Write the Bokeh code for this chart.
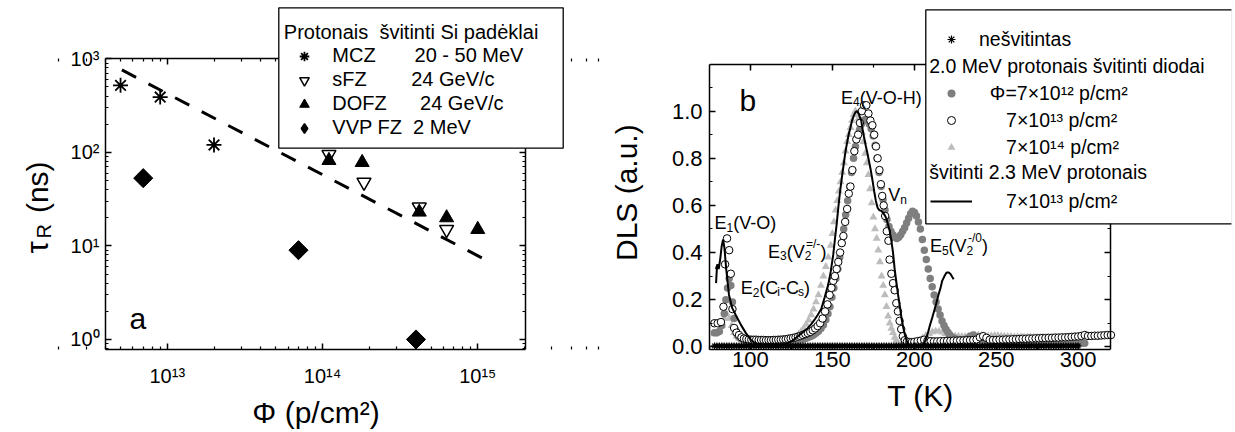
import math
from bokeh.plotting import figure
from bokeh.layouts import row
from bokeh.models import (LogAxis, LinearAxis, Label, BoxAnnotation, Legend, LegendItem,
                          FixedTicker, SingleIntervalTicker, PrintfTickFormatter,
                          CustomJSTickFormatter, ColumnDataSource, Range1d)
from bokeh.core.properties import value
from bokeh.embed import file_html
from bokeh.resources import INLINE

FONT = "Liberation Sans"
NB = "\u00a0"
L10 = math.log10

# ======================= panel a data =======================
mcz_phi = [5.0e12, 9.0e12, 2.0e13]
mcz_tau = [520, 390, 120]
sfz_phi = [1.1e14, 1.85e14, 4.2e14, 6.3e14]
sfz_tau = [95, 48, 26, 15]
dofz_phi = [1.1e14, 1.8e14, 4.2e14, 6.3e14, 1.0e15]
dofz_tau = [82, 78, 23, 20, 15]
vvp_phi = [7.0e12, 7.0e13, 4.0e14]
vvp_tau = [53, 9, 1.0]
fit_phi = [5.1e12, 1.07e15]
fit_tau = [760, 7.4]

a_x_lo, a_x_hi = 4.0e12, 2.03e15
a_y_hi = 1000
a_x_ticks = [1e13, 1e14, 1e15]
a_x_labels = ["10¹³", "10¹⁴", "10¹⁵"]
a_y_ticks = [1, 10, 100, 1000]
a_y_labels = ["10⁰", "10¹", "10²", "10³"]
a_legend_title = "Protonais" + NB * 2 + "švitinti Si padėklai"
a_legend_labels = ["MCZ" + NB * 7 + "20 - 50 MeV",
                   "sFZ" + NB * 8 + "24 GeV/c",
                   "DOFZ" + NB * 6 + "24 GeV/c",
                   "VVP FZ" + NB * 2 + "2 MeV"]
a_panel_letter = ("a", 5.7e12, 1.68)

# ======================= panel b data =======================
unirr_T = [78, 79.5, 81, 82.5, 84, 85.5, 87, 88.5, 90, 91.5, 93, 94.5, 96, 97.5, 99, 100.5,
           102, 103.5, 105, 106.5, 108, 109.5, 111, 112.5, 114, 115.5, 117, 118.5, 120, 121.5,
           123, 124.5, 126, 127.5, 129, 130.5, 132, 133.5, 135, 136.5, 138, 139.5, 141, 142.5,
           144, 145.5, 147, 148.5, 150, 151.5, 153, 154.5, 156, 157.5, 159, 160.5, 162, 163.5,
           165, 166.5, 168, 169.5, 171, 172.5, 174, 175.5, 177, 178.5, 180, 181.5, 183, 184.5,
           186, 187.5, 189, 190.5, 192, 193.5, 195, 196.5, 198, 199.5, 201, 202.5, 204, 205.5,
           207, 208.5, 210, 211.5, 213, 214.5, 216, 217.5, 219, 220.5, 222, 223.5, 225, 226.5,
           228, 229.5, 231, 232.5, 234, 235.5, 237, 238.5, 240, 241.5, 243, 244.5, 246, 247.5,
           249, 250.5, 252, 253.5, 255, 256.5, 258, 259.5, 261, 262.5, 264, 265.5, 267, 268.5,
           270, 271.5, 273, 274.5, 276, 277.5, 279, 280.5, 282, 283.5, 285, 286.5, 288, 289.5,
           291, 292.5, 294, 295.5, 297, 298.5, 300]
unirr_v = [0.004, 0.004, 0.004, 0.004, 0.004, 0.004, 0.004, 0.004, 0.004, 0.004, 0.004, 0.004,
           0.004, 0.004, 0.004, 0.004, 0.004, 0.004, 0.004, 0.004, 0.004, 0.004, 0.004, 0.004,
           0.004, 0.004, 0.004, 0.004, 0.004, 0.004, 0.004, 0.004, 0.004, 0.004, 0.004, 0.004,
           0.004, 0.004, 0.004, 0.004, 0.004, 0.004, 0.004, 0.004, 0.004, 0.004, 0.004, 0.004,
           0.004, 0.004, 0.004, 0.004, 0.004, 0.004, 0.004, 0.004, 0.004, 0.004, 0.004, 0.004,
           0.004, 0.004, 0.004, 0.004, 0.004, 0.004, 0.004, 0.004, 0.004, 0.004, 0.004, 0.004,
           0.004, 0.004, 0.004, 0.004, 0.004, 0.004, 0.004, 0.004, 0.004, 0.004, 0.004, 0.004,
           0.004, 0.004, 0.004, 0.004, 0.004, 0.004, 0.004, 0.004, 0.004, 0.004, 0.004, 0.004,
           0.004, 0.004, 0.004, 0.004, 0.004, 0.004, 0.004, 0.004, 0.004, 0.004, 0.004, 0.004,
           0.004, 0.004, 0.004, 0.004, 0.004, 0.004, 0.004, 0.004, 0.004, 0.004, 0.004, 0.004,
           0.004, 0.004, 0.004, 0.004, 0.004, 0.004, 0.004, 0.004, 0.004, 0.004, 0.004, 0.004,
           0.004, 0.004, 0.004, 0.004, 0.004, 0.004, 0.004, 0.004, 0.004, 0.004, 0.004, 0.004,
           0.004, 0.004, 0.004, 0.004, 0.004]

f12_pts = [(78, 0.06), (79.5, 0.06), (81, 0.065), (82.5, 0.09), (84, 0.14), (85, 0.2), (86, 0.25),
           (87, 0.29), (88, 0.26), (89, 0.19), (90, 0.12), (91, 0.07), (92.5, 0.045), (94, 0.035),
           (95.5, 0.03), (97, 0.026), (99, 0.024), (101, 0.022), (103, 0.021), (105, 0.02),
           (107, 0.02), (109, 0.02), (111, 0.02), (113, 0.02), (115, 0.02), (117, 0.021),
           (119, 0.021), (121, 0.022), (123, 0.023), (125, 0.024), (127, 0.025), (129, 0.027),
           (131, 0.03), (132.5, 0.033), (134, 0.036), (135.5, 0.04), (137, 0.045), (138.5, 0.05),
           (140, 0.057), (141.5, 0.066), (143, 0.078), (144.5, 0.093), (146, 0.115), (147.3, 0.14),
           (148.5, 0.17), (149.7, 0.21), (150.9, 0.25), (152.1, 0.29), (153.3, 0.33), (154.5, 0.38),
           (155.7, 0.44), (156.9, 0.5), (158.1, 0.56), (159.3, 0.62), (160.5, 0.68), (161.7, 0.74),
           (162.9, 0.8), (164.1, 0.85), (165.3, 0.89), (166.5, 0.92), (167.7, 0.945), (168.9, 0.96),
           (170.1, 0.965), (171.3, 0.96), (172.5, 0.945), (173.7, 0.925), (174.9, 0.895),
           (176.1, 0.855), (177.3, 0.8), (178.5, 0.74), (179.7, 0.68), (180.9, 0.625), (182.1, 0.58),
           (183.3, 0.54), (184.5, 0.51), (185.7, 0.49), (186.9, 0.475), (188.1, 0.465), (189.3, 0.46),
           (190.5, 0.465), (191.7, 0.475), (192.9, 0.49), (194.1, 0.505), (195.3, 0.525),
           (196.5, 0.545), (197.7, 0.565), (198.9, 0.575), (200.1, 0.57), (201.3, 0.555),
           (202.5, 0.53), (203.7, 0.5), (204.9, 0.455), (206.1, 0.41), (207.3, 0.37), (208.5, 0.33),
           (209.7, 0.29), (210.9, 0.255), (212.1, 0.22), (213.3, 0.19), (214.5, 0.16), (215.7, 0.135),
           (216.9, 0.11), (218.1, 0.09), (219.3, 0.075), (220.5, 0.062), (221.7, 0.05), (222.9, 0.042),
           (224.1, 0.036), (226, 0.032), (228, 0.03), (230, 0.03), (232, 0.034), (234, 0.045),
           (236, 0.05), (238, 0.042), (240, 0.032), (242, 0.028), (244, 0.027), (246, 0.026),
           (248, 0.026), (250, 0.025), (252, 0.025), (254, 0.024), (256, 0.024), (258, 0.024),
           (260, 0.023), (262, 0.023), (264, 0.023), (266, 0.022), (268, 0.022), (270, 0.022),
           (272, 0.021), (274, 0.021), (276, 0.021), (278, 0.02), (280, 0.02), (282, 0.02),
           (284, 0.019), (286, 0.019), (288, 0.019), (290, 0.018), (292, 0.018), (294, 0.017),
           (296, 0.017), (298, 0.016), (300, 0.016), (302, 0.015), (304, 0.015)]

f13_pts = [(78, 0.10), (80, 0.10), (82, 0.105), (83.5, 0.17), (84.5, 0.35), (85.7, 0.46), (87, 0.41),
           (88, 0.31), (89, 0.16), (90, 0.08), (91.5, 0.06), (93, 0.05), (94.5, 0.04), (96, 0.035),
           (97.5, 0.033), (99, 0.031), (100.5, 0.03), (102, 0.03), (103.5, 0.03), (105, 0.029),
           (106.5, 0.029), (108, 0.029), (109.5, 0.028), (111, 0.028), (112.5, 0.028), (114, 0.029),
           (115.5, 0.029), (117, 0.03), (118.5, 0.03), (120, 0.031), (121.5, 0.032), (123, 0.034),
           (124.5, 0.036), (126, 0.038), (127.5, 0.04), (129, 0.043), (130.5, 0.046), (132, 0.05),
           (133.5, 0.054), (135, 0.058), (136.5, 0.063), (138, 0.07), (139.5, 0.078), (141, 0.088),
           (142.5, 0.1), (144, 0.12), (145.5, 0.15), (147, 0.18), (148.3, 0.22), (149.4, 0.25),
           (150.5, 0.28), (151.5, 0.30), (152.6, 0.33), (153.6, 0.36), (154.7, 0.40), (155.7, 0.44),
           (156.7, 0.47), (157.8, 0.53), (159, 0.585), (160, 0.65), (161, 0.68), (162.2, 0.75),
           (163.4, 0.83), (164.6, 0.88), (165.7, 0.90), (166.8, 0.95), (168, 1.0), (169.3, 1.025),
           (170.7, 1.025), (172, 0.99), (173.2, 0.96), (174.4, 0.94), (175.5, 0.9), (176.6, 0.85),
           (177.6, 0.8), (178.7, 0.75), (179.6, 0.69), (180.4, 0.64), (181.3, 0.6), (182.2, 0.555),
           (183.2, 0.49), (184.2, 0.45), (184.9, 0.37), (186, 0.31), (187, 0.27), (188, 0.24),
           (189, 0.185), (190, 0.15), (191, 0.11), (192, 0.075), (193, 0.045), (194.2, 0.028),
           (195.5, 0.022), (197, 0.02), (198.5, 0.02), (200, 0.021), (202, 0.024), (204, 0.026),
           (206, 0.03), (208, 0.026), (210, 0.024), (212, 0.023), (214, 0.023), (216, 0.024),
           (218, 0.024), (220, 0.025), (222, 0.025), (224, 0.026), (226, 0.026), (228, 0.027),
           (230, 0.027), (232, 0.028), (234, 0.028), (236, 0.029), (238, 0.031), (240, 0.04),
           (242, 0.045), (244, 0.038), (246, 0.03), (248, 0.029), (250, 0.029), (252, 0.03),
           (254, 0.03), (256, 0.031), (258, 0.031), (260, 0.032), (262, 0.032), (264, 0.033),
           (266, 0.034), (268, 0.034), (270, 0.035), (272, 0.035), (274, 0.036), (276, 0.036),
           (278, 0.037), (280, 0.037), (282, 0.038), (284, 0.038), (286, 0.039), (288, 0.039),
           (290, 0.04), (292, 0.04), (294, 0.041), (296, 0.042), (298, 0.043), (300, 0.044),
           (302, 0.046), (304, 0.05), (306, 0.046), (308, 0.046), (310, 0.047), (312, 0.047),
           (314, 0.048), (316, 0.049), (318, 0.05), (320, 0.05)]

f14_pts = [(78, 0.055), (79.5, 0.06), (81, 0.07), (82.5, 0.09), (84, 0.12), (85.5, 0.14), (87, 0.12),
           (88.5, 0.09), (90, 0.06), (91.5, 0.045), (93, 0.035), (95, 0.03), (97, 0.027), (99, 0.025),
           (101, 0.024), (103, 0.023), (105, 0.023), (107, 0.023), (109, 0.023), (111, 0.024),
           (113, 0.024), (115, 0.025), (117, 0.026), (119, 0.027), (121, 0.029), (123, 0.031),
           (125, 0.033), (126.5, 0.038), (128, 0.045), (129.5, 0.055), (131, 0.066), (132.5, 0.078),
           (134, 0.095), (135.5, 0.113), (137, 0.135), (138.5, 0.16), (140, 0.19), (141.5, 0.22),
           (143, 0.26), (144.5, 0.3), (146, 0.34), (147.5, 0.38), (149, 0.43), (150, 0.48),
           (151, 0.53), (152, 0.58), (153, 0.62), (154, 0.66), (155, 0.7), (156, 0.74), (157, 0.78),
           (158, 0.83), (159, 0.87), (160, 0.9), (161, 0.93), (162, 0.96), (163, 0.985), (164, 1.0),
           (165, 0.99), (166, 0.97), (167, 0.94), (168, 0.91), (169, 0.87), (170, 0.82), (171, 0.78),
           (172, 0.73), (173, 0.67), (174, 0.61), (175, 0.55), (176, 0.5), (177, 0.46), (178, 0.41),
           (179, 0.36), (180, 0.3), (181, 0.26), (182, 0.22), (183, 0.17), (184, 0.13), (185, 0.1),
           (186, 0.078), (187, 0.06), (188, 0.04), (189, 0.028), (190, 0.016), (191.5, 0.009),
           (193, 0.007), (195, 0.007), (197, 0.009), (199, 0.013), (201, 0.019), (203, 0.027),
           (205, 0.037), (207, 0.047), (209, 0.056), (211, 0.063), (213, 0.066), (215, 0.066),
           (217, 0.062), (219, 0.056), (221, 0.051), (223, 0.047), (225, 0.045), (227, 0.044),
           (229, 0.043), (231, 0.043), (233, 0.044), (235, 0.047), (237, 0.05), (239, 0.05),
           (241, 0.048), (243, 0.046), (245, 0.045), (247, 0.046), (249, 0.048), (251, 0.047),
           (253, 0.045), (255, 0.044), (257, 0.043), (259, 0.043), (261, 0.042), (263, 0.042),
           (265, 0.042), (267, 0.041), (269, 0.041), (271, 0.041), (273, 0.04), (275, 0.04),
           (277, 0.04), (279, 0.04), (281, 0.04), (283, 0.039), (285, 0.039), (287, 0.039),
           (289, 0.039), (291, 0.039), (293, 0.038), (295, 0.038), (297, 0.038), (299, 0.038)]

p23_pts = [(79.0, 0.27), (79.6, 0.345), (78.9, 0.33), (79.9, 0.35), (80.6, 0.33), (81.5, 0.37),
           (82.5, 0.43), (83.3, 0.455), (84.1, 0.42), (85.2, 0.33), (86.9, 0.22), (88.9, 0.164),
           (91, 0.135), (94.2, 0.093), (97.3, 0.057), (100.4, 0.028), (103, 0.015), (106, 0.007),
           (110, 0.003), (114, 0.0), (118, 0.004), (122.3, 0.014), (125.5, 0.025), (128.6, 0.043),
           (131.5, 0.06), (134.8, 0.078), (137, 0.095), (139, 0.114), (141, 0.135), (143.2, 0.16),
           (145.3, 0.21), (147.4, 0.263), (149, 0.32), (150.5, 0.39), (151.6, 0.46), (152.6, 0.52),
           (153.6, 0.59), (154.7, 0.66), (156.2, 0.74), (157.8, 0.82), (158.8, 0.86), (159.9, 0.9),
           (161, 0.93), (162, 0.96), (163, 0.98), (164, 0.995), (165, 1.0), (166, 0.99), (167, 0.97),
           (167.6, 0.96), (168.5, 0.92), (169.3, 0.89), (170.3, 0.855), (171.4, 0.82), (172.4, 0.785),
           (173.4, 0.75), (174.5, 0.705), (175.5, 0.66), (176.5, 0.62), (177.6, 0.59), (178.6, 0.58),
           (179.7, 0.577), (180.8, 0.57), (181.8, 0.56), (182.9, 0.545), (183.9, 0.52), (185, 0.49),
           (186, 0.45), (187, 0.4), (188, 0.33), (189, 0.275), (190.1, 0.22), (191.2, 0.17),
           (192.2, 0.12), (193.3, 0.08), (194.3, 0.05), (195.4, 0.025), (196.4, 0.01), (198, 0.005),
           (200, 0.004), (202, 0.004), (204, 0.005), (205.5, 0.01), (207, 0.03), (208.5, 0.065),
           (209.7, 0.096), (211, 0.125), (212, 0.15), (213.4, 0.185), (214.7, 0.22), (216, 0.25),
           (217, 0.28), (218.4, 0.3), (219.7, 0.315), (221, 0.315), (222, 0.31), (223, 0.298),
           (224, 0.287)]

b_x_lo, b_x_hi = 75, 320
b_y_lo, b_y_hi = 0.0, 1.2
b_y_format = "%.1f"
b_legend_labels = ["nešvitintas",
                   NB * 2 + "Φ=7×10¹² p/cm²",
                   NB * 5 + "7×10¹³ p/cm²",
                   NB * 5 + "7×10¹⁴ p/cm²",
                   NB * 5 + "7×10¹³ p/cm²"]
b_legend_headers = ["2.0 MeV protonais švitinti diodai", "švitinti 2.3 MeV protonais"]
b_panel_letter = ("b", 93.3, 1.044)
b_annotations = [
    (155.3, 1.057, [("E", 0, 0, 18), ("4", 12, 4, 12), ("(V-O-H)", 18.7, 0, 18)]),
    (184.1, 0.645, [("V", 0, 0, 18), ("n", 12, 5, 12)]),
    (78.1, 0.524, [("E", 0, 0, 18), ("1", 12, 4, 12), ("(V-O)", 18.7, 0, 18)]),
    (110.7, 0.404, [("E", 0, 0, 18), ("3", 12, 4, 12), ("(V", 18.7, 0, 18), ("2", 36.7, 4, 12),
                    ("=/-", 38, -8, 12), (")", 52.5, 0, 18)]),
    (94.0, 0.248, [("E", 0, 0, 18), ("2", 12, 4, 12), ("(C", 18.7, 0, 18), ("i", 36.7, 4, 12),
                   ("-C", 39.4, 0, 18), ("s", 57.4, 4, 12), (")", 63.4, 0, 18)]),
    (209.5, 0.426, [("E", 0, 0, 18), ("5", 12, 4, 12), ("(V", 18.7, 0, 18), ("2", 36.7, 4, 12),
                    ("-/0", 38, -8, 12), (")", 52.2, 0, 18)]),
]

# ======================= layout geometry (canvas pixels) =======================
H = 432
A_W = 606
B_W = 627
A_FL, A_FR, A_FT, A_FB = 2, A_W - 2, 2, 349          # frame of figure a
A_BOX_L, A_BOX_R, A_BOX_T = 105, 525, 58.3           # visible axes box of panel a
A_DEC = 93.55                                        # px per decade on the y axis
B_X0 = A_W
B_FL, B_FR, B_FT, B_FB = 707, B_X0 + B_W - 2, 2, 349  # frame of figure b (page coords)
B_BOX_R, B_BOX_T, B_BOX_B = 1110, 63.5, 346.3


def split(pts):
    return [p[0] for p in pts], [p[1] for p in pts]


def style_axis(ax, size, standoff, tick_in=6, minor_in=3):
    ax.axis_line_color = "black"
    ax.axis_line_width = 1.5
    ax.major_tick_in = tick_in
    ax.major_tick_out = 0
    ax.minor_tick_in = minor_in
    ax.minor_tick_out = 0
    ax.major_tick_line_color = "black"
    ax.minor_tick_line_color = "black"
    ax.major_tick_line_width = 1.5
    ax.minor_tick_line_width = 1.2
    ax.major_label_text_font = FONT
    ax.major_label_text_font_size = f"{size}px"
    ax.major_label_text_color = "black"
    ax.major_label_standoff = standoff
    ax.axis_label_text_font = FONT
    ax.axis_label_text_font_style = "normal"
    ax.axis_label_text_color = "black"


empty_fmt = CustomJSTickFormatter(code="return ''")


def hide_labels(ax):
    ax.formatter = empty_fmt
    ax.major_label_text_font_size = "0px"
    ax.major_label_standoff = 0


def slabel(FL, FB, X, Y, text, size, angle=0.0, align="left", baseline="alphabetic"):
    return Label(x=X - FL, y=FB - Y, x_units="screen", y_units="screen", text=text,
                 angle=angle, text_font=FONT, text_font_size=f"{size}px",
                 text_align=align, text_baseline=baseline, text_color="black")


def sbox(FL, FB, L, R, T, B):
    return BoxAnnotation(left=L - FL, right=R - FL, top=FB - T, bottom=FB - B,
                         left_units="screen", right_units="screen",
                         top_units="screen", bottom_units="screen",
                         fill_color="white", fill_alpha=1.0, line_color="black",
                         line_width=1.3, line_alpha=1.0, level="annotation")


# ======================= figure a =======================
dpp = (L10(a_x_hi) - L10(a_x_lo)) / (A_BOX_R - A_BOX_L)
xr_a = Range1d(10 ** (L10(a_x_lo) - (A_BOX_L - A_FL) * dpp),
               10 ** (L10(a_x_hi) + (A_FR - A_BOX_R) * dpp))
a_y_lo = 10 ** (L10(a_y_hi) - (A_FB - A_BOX_T) / A_DEC)
yr_a = Range1d(a_y_lo, 10 ** (L10(a_y_hi) + (A_BOX_T - A_FT) / A_DEC))

p1 = figure(width=A_W, height=H, x_axis_type="log", y_axis_type="log",
            x_range=xr_a, y_range=yr_a, title=None,
            output_backend="svg", toolbar_location=None,
            min_border_left=A_FL, min_border_right=A_W - A_FR,
            min_border_top=A_FT, min_border_bottom=H - A_FB)
p1.grid.visible = False
p1.outline_line_color = None
p1.background_fill_color = "white"
p1.border_fill_color = "white"

a_x_minor = [k * 10.0 ** e for e in (12, 13, 14, 15) for k in range(2, 10)]
a_y_minor = [k * 10.0 ** e for e in (-1, 0, 1, 2) for k in range(2, 10)]

xa = p1.xaxis[0]
xa.ticker = FixedTicker(ticks=a_x_ticks, minor_ticks=a_x_minor)
xa.major_label_overrides = {float(t): l for t, l in zip(a_x_ticks, a_x_labels)}
style_axis(xa, 20, 15)
xa.bounds = (a_x_lo, a_x_hi)
xa.axis_label = NB * 3 + "Φ (p/cm²)"
xa.axis_label_text_font_size = "30px"
xa.axis_label_standoff = 6

ya = p1.yaxis[0]
ya.ticker = FixedTicker(ticks=a_y_ticks, minor_ticks=a_y_minor)
style_axis(ya, 20, 6)
hide_labels(ya)
ya.fixed_location = a_x_lo
ya.bounds = (a_y_lo, a_y_hi)

xa2 = LogAxis(ticker=FixedTicker(ticks=a_x_ticks, minor_ticks=a_x_minor))
style_axis(xa2, 10, 0)
hide_labels(xa2)
xa2.fixed_location = a_y_hi
xa2.bounds = (a_x_lo, a_x_hi)
p1.add_layout(xa2, "above")
ya2 = LogAxis(ticker=FixedTicker(ticks=a_y_ticks, minor_ticks=a_y_minor))
style_axis(ya2, 10, 0)
hide_labels(ya2)
ya2.fixed_location = a_x_hi
ya2.bounds = (a_y_lo, a_y_hi)
p1.add_layout(ya2, "right")

# y tick labels of panel a (placed at the box edge)
p1.text(x=[a_x_lo] * len(a_y_ticks), y=a_y_ticks, text=a_y_labels, x_offset=-6,
        text_font=value(FONT), text_font_size=value("20px"), text_align="right",
        text_baseline="middle", text_color="black")

p1.line(fit_phi, fit_tau, line_color="black", line_width=3, line_dash="16 14")
r_mcz = p1.scatter(mcz_phi, mcz_tau, marker="asterisk", size=15, line_color="black", line_width=1.8)
r_sfz = p1.scatter(sfz_phi, sfz_tau, marker="inverted_triangle", size=14, fill_color="white",
                   line_color="black", line_width=1.5)
r_dofz = p1.scatter(dofz_phi, dofz_tau, marker="triangle", size=14, fill_color="black",
                    line_color="black", line_width=1)
# narrow diamonds hidden under the square diamonds: they provide the legend swatch
r_vvp_key = p1.scatter(vvp_phi, vvp_tau, marker="diamond", size=12, fill_color="black",
                       line_color="black", line_width=1.5)
r_vvp = p1.scatter(vvp_phi, vvp_tau, marker="square", angle=math.pi / 4, size=13.5,
                   fill_color="black", line_color="black", line_width=1)

p1.text(x=[a_panel_letter[1]], y=[a_panel_letter[2]], text=[a_panel_letter[0]],
        text_font=value(FONT), text_font_size=value("30px"), text_align="left",
        text_baseline="alphabetic", text_color="black")

p1.add_layout(sbox(A_FL, A_FB, 278.3, 562.7, 7.3, 147.7))
leg1 = Legend(items=[LegendItem(label=a_legend_labels[0], renderers=[r_mcz]),
                     LegendItem(label=a_legend_labels[1], renderers=[r_sfz]),
                     LegendItem(label=a_legend_labels[2], renderers=[r_dofz]),
                     LegendItem(label=a_legend_labels[3], renderers=[r_vvp_key])],
              location=(283.3 - A_FL, A_FB - 139.6), padding=0, margin=0,
              glyph_width=42, glyph_height=24, label_height=24, spacing=0, label_standoff=7,
              label_text_font=FONT, label_text_font_size="20px", label_text_color="black",
              border_line_color=None, background_fill_alpha=0)
p1.add_layout(leg1)
p1.add_layout(slabel(A_FL, A_FB, 283.3, 31, a_legend_title, 20, baseline="middle"))

# y axis title of panel a: tau with subscript R
p1.add_layout(slabel(A_FL, A_FB, 37, 253, "τ", 31, angle=math.pi / 2))
p1.add_layout(slabel(A_FL, A_FB, 43.5, 238, "R", 20, angle=math.pi / 2))
p1.add_layout(slabel(A_FL, A_FB, 37, 212.6, "(ns)", 30, angle=math.pi / 2))

# ======================= figure b =======================
ppk = (B_BOX_R - B_FL) / (b_x_hi - b_x_lo)
ppu = (B_BOX_B - B_BOX_T) / (b_y_hi - b_y_lo)
xr_b = Range1d(b_x_lo, b_x_hi + (B_FR - B_BOX_R) / ppk)
b_y_frame_lo = b_y_lo - (B_FB - B_BOX_B) / ppu
yr_b = Range1d(b_y_frame_lo, b_y_hi + (B_BOX_T - B_FT) / ppu)

p2 = figure(width=B_W, height=H, x_range=xr_b, y_range=yr_b, title=None,
            output_backend="svg", toolbar_location=None,
            min_border_left=B_FL - B_X0, min_border_right=B_X0 + B_W - B_FR,
            min_border_top=B_FT, min_border_bottom=H - B_FB)
p2.grid.visible = False
p2.outline_line_color = None
p2.background_fill_color = "white"
p2.border_fill_color = "white"

xb = p2.xaxis[0]
xb.ticker = SingleIntervalTicker(interval=50, num_minor_ticks=2)
style_axis(xb, 22, 2)
xb.bounds = (b_x_lo, b_x_hi)
xb.axis_label = "T (K)" + NB * 12
xb.axis_label_text_font_size = "30px"
xb.axis_label_standoff = 9

yb = p2.yaxis[0]
yb.ticker = SingleIntervalTicker(interval=0.2, num_minor_ticks=2)
yb.formatter = PrintfTickFormatter(format=b_y_format)
style_axis(yb, 22, 7)
yb.bounds = (b_y_frame_lo, b_y_hi)
yb.axis_label = "DLS (a.u.)" + NB * 4
yb.axis_label_text_font_size = "30px"
yb.axis_label_standoff = 26

xb2 = LinearAxis(ticker=SingleIntervalTicker(interval=50, num_minor_ticks=2))
style_axis(xb2, 10, 0)
hide_labels(xb2)
xb2.fixed_location = b_y_hi
xb2.bounds = (b_x_lo, b_x_hi)
p2.add_layout(xb2, "above")
yb2 = LinearAxis(ticker=SingleIntervalTicker(interval=0.2, num_minor_ticks=2))
style_axis(yb2, 10, 0)
hide_labels(yb2)
yb2.fixed_location = b_x_hi
yb2.bounds = (b_y_frame_lo, b_y_hi)
p2.add_layout(yb2, "right")

t14, v14 = split(f14_pts)
r_tri = p2.scatter(t14, v14, marker="triangle", size=8, fill_color="#bdbdbd", line_color=None)
t12, v12 = split(f12_pts)
r_gray = p2.scatter(t12, v12, marker="circle", size=7.5, fill_color="#7f7f7f", line_color=None)
t13, v13 = split(f13_pts)
r_open = p2.scatter(t13, v13, marker="circle", size=7.5, fill_color="white", line_color="black",
                    line_width=1)
r_ast = p2.scatter(unirr_T, unirr_v, marker="asterisk", size=6.5, line_color="black",
                   line_width=1.2)
tl, vl = split(p23_pts)
r_line = p2.line(tl, vl, line_color="black", line_width=2)
r_dummy = p2.scatter([], [], marker="circle", size=1, fill_alpha=0, line_alpha=0)

ann = {"x": [], "y": [], "text": [], "dx": [], "dy": [], "fs": []}
for ax_, ay_, pieces in b_annotations:
    for txt, dx, dy, fs in pieces:
        ann["x"].append(ax_)
        ann["y"].append(ay_)
        ann["text"].append(txt)
        ann["dx"].append(dx)
        ann["dy"].append(dy)
        ann["fs"].append(f"{fs}px")
p2.text(x="x", y="y", text="text", x_offset="dx", y_offset="dy", text_font_size="fs",
        source=ColumnDataSource(ann), text_font=value(FONT), text_align="left",
        text_baseline="alphabetic", text_color="black")
p2.text(x=[b_panel_letter[1]], y=[b_panel_letter[2]], text=[b_panel_letter[0]],
        text_font=value(FONT), text_font_size=value("30px"), text_align="left",
        text_baseline="alphabetic", text_color="black")

p2.add_layout(sbox(B_FL, B_FB, 923.3, 1230, 9.3, 223.3))
leg2 = Legend(items=[LegendItem(label=b_legend_labels[0], renderers=[r_ast]),
                     LegendItem(label=NB, renderers=[r_dummy]),
                     LegendItem(label=b_legend_labels[1], renderers=[r_gray]),
                     LegendItem(label=b_legend_labels[2], renderers=[r_open]),
                     LegendItem(label=b_legend_labels[3], renderers=[r_tri]),
                     LegendItem(label=NB, renderers=[r_dummy]),
                     LegendItem(label=b_legend_labels[4], renderers=[r_line])],
              location=(928 - B_FL, B_FB - 212.7), padding=0, margin=0,
              glyph_width=42, glyph_height=20, label_height=22, spacing=4, label_standoff=7,
              label_text_font=FONT, label_text_font_size="19.5px", label_text_color="black",
              border_line_color=None, background_fill_alpha=0)
p2.add_layout(leg2)
p2.add_layout(slabel(B_FL, B_FB, 926.7, 65, b_legend_headers[0], 19.5, baseline="middle"))
p2.add_layout(slabel(B_FL, B_FB, 926.7, 171.7, b_legend_headers[1], 19.5, baseline="middle"))

layout = row(p1, p2)
open("out.html", "w").write(file_html(layout, INLINE))
